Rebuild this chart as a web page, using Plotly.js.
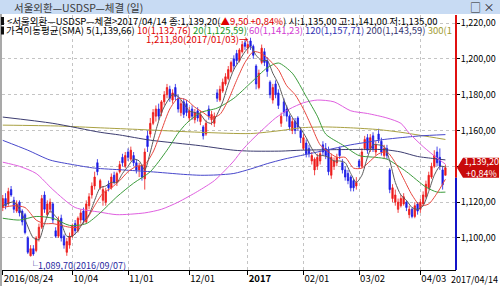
<!DOCTYPE html>
<html><head><meta charset="utf-8">
<script src="https://cdn.plot.ly/plotly-3.0.1.min.js"></script>
<style>html,body{margin:0;padding:0;background:#fff;}#chart{width:500px;height:286px;}</style>
</head><body><div id="chart"></div>
<script>
// ---------- data ----------
const chartTitle = "서울외환—USDSP—체결";
const tickIdx = [0, 25, 45, 67, 88, 108, 128, 150];
const tickLabels = ["2016/08/24", "10/04", "11/01", "12/01", "<b>2017</b>", "02/01", "03/02", "04/03"];
const lastDateLabel = "2017/04/14";

const open = [
1117,1122,1119,1127,1121,1115,1120,1115,1113,1100,
1090,1094,1093,1100,1106,1124,1113,1116,1119,1104,
1101,1111,1101,1092,1096,1101,1108,1104,1110,1115,
1109,1118,1124,1129,1142,1128,1121,1120,1130,1128,
1135,1131,1137,1145,1140,1148,1144,1146,1142,1138,
1140,1133,1157,1158,1164,1168,1172,1170,1176,1180,
1183,1177,1184,1178,1170,1176,1175,1167,1172,1166,
1171,1165,1162,1158,1172,1166,1164,1181,1177,1182,
1186,1189,1193,1200,1203,1199,1204,1209,1206,1210,
1207,1196,1184,1198,1204,1199,1187,1177,1186,1181,
1164,1176,1172,1168,1160,1165,1167,1160,1150,1153,
1150,1143,1138,1140,1143,1152,1150,1149,1135,1140,
1142,1150,1142,1138,1136,1134,1132,1129,1143,1140,
1150,1156,1150,1157,1148,1158,1154,1146,1150,1138,
1122,1120,1116,1118,1119,1120,1113,1116,1112,1119,
1116,1119,1123,1128,1134,1140,1148,1145,1138,1135];
const high = [
1124,1125,1128,1129,1123,1121,1121,1116,1114,1101,
1096,1096,1101,1108,1124,1126,1121,1122,1120,1106,
1112,1113,1102,1100,1103,1108,1110,1112,1116,1117,
1121,1125,1131,1137,1144,1133,1129,1128,1132,1136,
1137,1137,1143,1147,1148,1150,1151,1148,1144,1142,
1141,1150,1160,1167,1172,1174,1175,1177,1182,1186,
1185,1183,1186,1180,1177,1178,1177,1173,1174,1172,
1173,1171,1163,1166,1174,1171,1170,1183,1185,1189,
1192,1196,1199,1202,1205,1206,1210,1211,1210,1211.8,
1208,1197,1194,1208,1206,1201,1188,1186,1188,1183,
1170,1178,1174,1169,1167,1167,1168,1162,1158,1155,
1152,1148,1145,1147,1149,1154,1153,1151,1147,1145,
1147,1151,1144,1140,1138,1135,1133,1134,1144,1150,
1157,1158,1158,1159,1154,1161,1156,1152,1152,1139,
1130,1127,1122,1124,1125,1121,1118,1117,1120,1120,
1122,1126,1132,1137,1142,1149,1151,1150,1140,1141];
const low = [
1115,1116,1118,1123,1114,1114,1112,1107,1102,1091,
1089.7,1090,1092,1098,1105,1114,1112,1114,1108,1100,
1100,1098,1094,1090,1094,1100,1102,1103,1108,1108,
1108,1116,1122,1127,1135,1127,1118,1118,1126,1127,
1130,1129,1136,1140,1139,1143,1143,1140,1136,1134,
1132,1127,1148,1156,1163,1165,1166,1168,1174,1178,
1176,1175,1177,1170,1168,1167,1168,1165,1166,1164,
1165,1163,1155,1157,1166,1163,1162,1176,1176,1181,
1185,1188,1192,1194,1197,1198,1203,1205,1203,1205,
1200,1183,1183,1197,1196,1190,1178,1175,1178,1172,
1162,1168,1165,1160,1158,1158,1160,1153,1149,1145,
1145,1141,1135,1138,1141,1146,1144,1135,1133,1138,
1140,1144,1136,1132,1130,1126,1126,1127,1139,1139,
1149,1147,1148,1148,1146,1153,1146,1144,1144,1125,
1120,1118,1114,1117,1118,1115,1111,1111,1111,1113,
1114,1118,1122,1127,1133,1139,1140,1138,1127,1135];
const close = [
1122,1118,1126,1124,1116,1119,1114,1109,1103,1092,
1094,1091,1100,1106,1122,1116,1119,1120,1110,1101,
1110,1100,1096,1098,1101,1107,1104,1111,1114,1110,
1119,1123,1129,1134,1137,1132,1127,1126,1128,1134,
1131,1136,1141,1142,1146,1145,1149,1142,1138,1140,
1134,1148,1151,1164,1170,1172,1168,1176,1180,1184,
1178,1181,1179,1172,1175,1169,1170,1171,1168,1170,
1167,1169,1157,1164,1168,1169,1168,1178,1183,1187,
1190,1194,1198,1196,1199,1205,1208,1207,1208,1207,
1202,1186,1192,1206,1198,1193,1180,1184,1180,1174,
1168,1170,1168,1162,1165,1160,1162,1156,1156,1147,
1147,1146,1144,1145,1147,1148,1146,1137,1145,1143,
1145,1146,1138,1134,1132,1128,1128,1131,1140,1148,
1155,1149,1156,1150,1152,1155,1148,1150,1146,1127,
1128,1124,1120,1122,1123,1117,1116,1112,1118,1115,
1120,1124,1130,1135,1140,1146,1142,1140,1129.7,1139.2];

// moving-average lines at sample days
const ma5X = [0,4,8,11,13,15,17,19,21,23,25,27,29,31,33,35,37,39,41,43,45,47,49,51,53,55,57,59,61,63,65,67,69,71,73,75,77,79,81,83,85,87,89,91,93,95,97,99,101,103,105,107,109,111,113,115,117,119,121,123,125,127,129,131,133,135,137,139,141,143,145,147,149,151,153,155,157,159];
const ma5Y = [1118,1120,1110,1100,1099,1108,1115,1112,1108,1101,1101,1104,1109,1113,1121,1128,1129,1131,1131,1136,1140,1144,1143,1138,1148,1160,1170,1176,1180,1179,1175,1171,1170,1169,1165,1164,1169,1176,1186,1194,1199,1204,1207,1202,1199,1199,1192,1186,1177,1170,1165,1161,1156,1150,1146,1146,1145,1143,1143,1142,1136,1131,1135,1145,1152,1152,1151,1143,1131,1124,1121,1117,1116,1118,1126,1135,1140,1139.66];
const ma10X = [0,4,8,12,15,18,21,24,27,30,33,36,39,42,45,48,51,54,57,60,63,66,69,72,75,78,81,84,87,90,93,96,99,102,105,108,111,114,117,120,123,126,129,132,135,138,141,144,147,150,153,156,159];
const ma10Y = [1117,1118,1117,1110,1108,1108,1107,1106,1106,1110,1118,1125,1128,1132,1137,1140,1141,1148,1160,1172,1178,1177,1173,1170,1167,1169,1177,1188,1198,1204,1203,1199,1194,1185,1180,1172,1162,1152,1148,1145,1145,1139,1139,1143,1147,1148,1142,1133,1124,1118,1119,1125,1132.76];
const ma20X = [0,6,12,18,24,30,35,41,47,53,59,63,66,71,77,83,89,95,99,104,109,113,116,122,128,134,138,145,152,156,159];
const ma20Y = [1111,1110,1112,1111,1107,1108,1114,1123,1130.6,1137,1149,1158.5,1164,1170,1172.5,1178,1186.5,1195,1197.7,1192,1179,1168,1158,1152,1146,1145,1144,1137,1128.4,1125.6,1125.59];
const ma60X = [0,6,12,18,26,35,41,51,57,63,70,76,80,83,86,89,93,98,103,108,113,119,125,131,138,143,146,151,156,159];
const ma60Y = [1142.3,1140,1136,1127,1117,1114.4,1113,1114,1116,1120,1126,1132,1138,1143,1149,1154,1160,1167,1172,1175.5,1177,1176,1171,1169.5,1167,1164,1158.5,1151,1144.6,1141.23];
const ma120X = [0,9,17,25,33,43,53,65,71,77,83,89,95,101,107,113,119,125,131,137,143,150,159];
const ma120Y = [1154.5,1149,1143.5,1141,1139,1138,1137,1135.5,1135,1135.2,1136,1138.5,1141.5,1144,1146,1148,1150,1152,1153.5,1155,1156,1157,1157.71];
const ma200X = [0,18,35,42,53,71,83,89,100,107,119,137,143,149,155,159];
const ma200Y = [1167.5,1164,1159,1157.5,1154.6,1151.5,1149,1148.5,1148.5,1149,1149.3,1149.3,1148,1145.5,1144.3,1143.59];
const ma300X = [0,20,35,50,71,89,100,107,115,125,135,143,150,159];
const ma300Y = [1163,1162.5,1161.5,1160.5,1159,1158.3,1160,1161.5,1162,1161.5,1160.5,1159,1157.3,1155];

const maPeriods = [5, 10, 20, 60, 120, 200, 300];
const maLast = [1139.66, 1132.76, 1125.59, 1141.23, 1157.71, 1143.59, 1155.02];
const maLineColors = ['#5a5a5a', '#e8463e', '#3c9c3c', '#e060e0', '#4848cc', '#3c3c70', '#a9a142'];
const maTextColors = ['#000000', '#e00000', '#18961c', '#d23cd2', '#3434b4', '#343470', '#a09a30'];

const lastChange = 9.50, lastPct = 0.84;
const dayOpen = 1135.00, dayHigh = 1141.00, dayLow = 1135.00;
const hiVal = 1211.80, hiIdx = 89, hiDate = "2017/01/03";
const loVal = 1089.70, loIdx = 10, loDate = "2016/09/07";
const yTickVals = [1100, 1120, 1140, 1160, 1180, 1200, 1220];

// ---------- helpers ----------
const W = 500, H = 286;
const px = x => x / W, py = y => 1 - y / H;
const FONT = '"Noto Sans CJK KR", "Noto Sans", sans-serif';
function fmt(v) {
  const s = v.toFixed(2).split('.');
  return s[0].replace(/\B(?=(\d{3})+(?!\d))/g, ',') + ',' + s[1];
}
const idx = close.map((_, i) => i);
const lastC = close[close.length - 1];

// ---------- traces ----------
const traces = [];
traces.push({
  type: 'candlestick', x: idx, open: open, high: high, low: low, close: close,
  increasing: {line: {color: '#ee1c1c', width: 0.8}, fillcolor: '#ee1c1c'},
  decreasing: {line: {color: '#1c1ce6', width: 0.8}, fillcolor: '#1c1ce6'},
  whiskerwidth: 0, hoverinfo: 'skip', showlegend: false
});
const maXs = [ma5X, ma10X, ma20X, ma60X, ma120X, ma200X, ma300X];
const maYs = [ma5Y, ma10Y, ma20Y, ma60Y, ma120Y, ma200Y, ma300Y];
for (let k = maXs.length - 1; k >= 0; k--) {
  traces.push({
    type: 'scatter', mode: 'lines', x: maXs[k], y: maYs[k],
    line: {color: maLineColors[k], width: 1, shape: 'spline', smoothing: 0.7},
    hoverinfo: 'skip', showlegend: false
  });
}

// ---------- legend text ----------
const line1 = '&lt;' + chartTitle + '&gt;' + lastDateLabel + ' 종:' + fmt(lastC) +
  '(<span style="color:#e00000">▲' + fmt(lastChange) + ' +' + fmt(lastPct) + '%</span>) 시:' +
  fmt(dayOpen) + ' 고:' + fmt(dayHigh) + ' 저:' + fmt(dayLow);
let line2 = '가격이동평균(SMA) ';
maPeriods.forEach((p, k) => {
  line2 += '<span style="color:' + maTextColors[k] + '">' + p + '(' + fmt(maLast[k]) + ')</span> ';
});

const tagHalf = 5.6;
const layout = {
  width: W, height: H, margin: {l: 0, r: 0, t: 0, b: 0},
  paper_bgcolor: '#ffffff', plot_bgcolor: '#ffffff',
  showlegend: false, dragmode: false,
  font: {family: FONT, size: 9.5, color: '#000'},
  xaxis: {
    domain: [px(2), px(456)], range: [-0.27, 162.8], type: 'linear',
    tickmode: 'array', tickvals: tickIdx, ticktext: tickLabels,
    showgrid: true, gridcolor: '#c4c4c4', griddash: 'dot', gridwidth: 1,
    showline: true, linecolor: '#000', linewidth: 1,
    ticks: 'outside', ticklen: 4, tickcolor: '#000',
    ticklabelposition: 'outside right',
    tickfont: {family: FONT, size: 9.5, color: '#000'},
    zeroline: false, rangeslider: {visible: false}, fixedrange: true
  },
  yaxis: {
    domain: [py(270), py(15)], range: [1082.1, 1224.5], side: 'right',
    tickmode: 'array', tickvals: yTickVals,
    ticktext: yTickVals.map(v => v === 1140 ? '' : fmt(v)),
    showgrid: true, gridcolor: '#c4c4c4', griddash: 'dot', gridwidth: 1,
    ticks: 'outside', ticklen: 3, tickcolor: '#000', ticklabelstandoff: -1,
    tickfont: {family: FONT, size: 9, color: '#000'},
    showline: false, zeroline: false, fixedrange: true
  },
  shapes: [
    {type: 'rect', xref: 'paper', yref: 'paper', x0: 0, x1: 1, y0: py(14), y1: 1,
     fillcolor: '#c8dbf3', line: {width: 0}, layer: 'above'},
    {type: 'line', xref: 'paper', yref: 'paper', x0: px(1), x1: px(1), y0: 0, y1: py(14),
     line: {color: '#8c8c8c', width: 1.5}, layer: 'above'},
    {type: 'rect', xref: 'paper', yref: 'paper', x0: px(1), x1: px(4), y0: py(25), y1: py(17),
     fillcolor: '#111', line: {width: 0}, layer: 'above'},
    {type: 'rect', xref: 'paper', yref: 'paper', x0: px(1), x1: px(4), y0: py(34.5), y1: py(26.5),
     fillcolor: '#111', line: {width: 0}, layer: 'above'},
    {type: 'line', xref: 'paper', yref: 'y', x0: px(456), x1: px(456), y0: lastC - tagHalf, y1: 1224.5,
     line: {color: '#e01010', width: 2}, layer: 'above'},
    {type: 'line', xref: 'paper', yref: 'y', x0: px(456), x1: px(456), y0: 1082.1, y1: lastC - tagHalf,
     line: {color: '#1414c8', width: 2}, layer: 'above'},
    {type: 'path', xref: 'paper', yref: 'y',
     path: 'M ' + px(457) + ',' + lastC + ' L ' + px(463) + ',' + (lastC + tagHalf) + ' L ' + px(499) + ',' + (lastC + tagHalf) +
           ' L ' + px(499) + ',' + (lastC - tagHalf) + ' L ' + px(463) + ',' + (lastC - tagHalf) + ' Z',
     fillcolor: '#c80a0a', line: {width: 0}, layer: 'above'}
  ],
  annotations: [
    {xref: 'paper', yref: 'paper', x: px(12), y: py(7), xanchor: 'left', yanchor: 'middle',
     text: chartTitle + ' (일)', showarrow: false, font: {family: FONT, size: 10.5, color: '#3a3a3a'}},
    {xref: 'paper', yref: 'paper', x: px(496), y: py(7), xanchor: 'right', yanchor: 'middle',
     text: '□ ×', showarrow: false, font: {family: FONT, size: 11, color: '#222'}},
    {xref: 'paper', yref: 'paper', x: px(5), y: py(21), xanchor: 'left', yanchor: 'middle',
     text: line1, showarrow: false, font: {family: FONT, size: 9.5, color: '#000'}},
    {xref: 'paper', yref: 'paper', x: px(5), y: py(30), xanchor: 'left', yanchor: 'middle',
     width: 446, align: 'left', borderpad: 0,
     text: line2, showarrow: false, font: {family: FONT, size: 9.5, color: '#000'}},
    {xref: 'x', yref: 'y', x: hiIdx, y: hiVal, xanchor: 'right', yanchor: 'middle', xshift: -1, yshift: -1.5,
     borderpad: 0,
     text: fmt(hiVal) + '(' + hiDate + ')→', showarrow: false, font: {family: FONT, size: 9.5, color: '#e00000'}},
    {xref: 'x', yref: 'y', x: loIdx, y: loVal, xanchor: 'left', yanchor: 'top', xshift: -4, yshift: -1,
     text: '└' + fmt(loVal) + '(' + loDate + ')', showarrow: false, font: {family: FONT, size: 9, color: '#2828a0'}},
    {xref: 'paper', yref: 'paper', x: px(450), y: py(279), xanchor: 'left', yanchor: 'middle',
     borderpad: 0,
     text: lastDateLabel, showarrow: false, font: {family: FONT, size: 9, color: '#000'}},
    {xref: 'paper', yref: 'y', x: px(481), y: lastC, xanchor: 'center', yanchor: 'middle',
     text: fmt(lastC) + '<br>+' + fmt(lastPct) + '%', showarrow: false,
     font: {family: FONT, size: 9, color: '#ffffff'}}
  ]
};

Plotly.newPlot('chart', traces, layout, {staticPlot: true, displayModeBar: false});
</script>
</body></html>
